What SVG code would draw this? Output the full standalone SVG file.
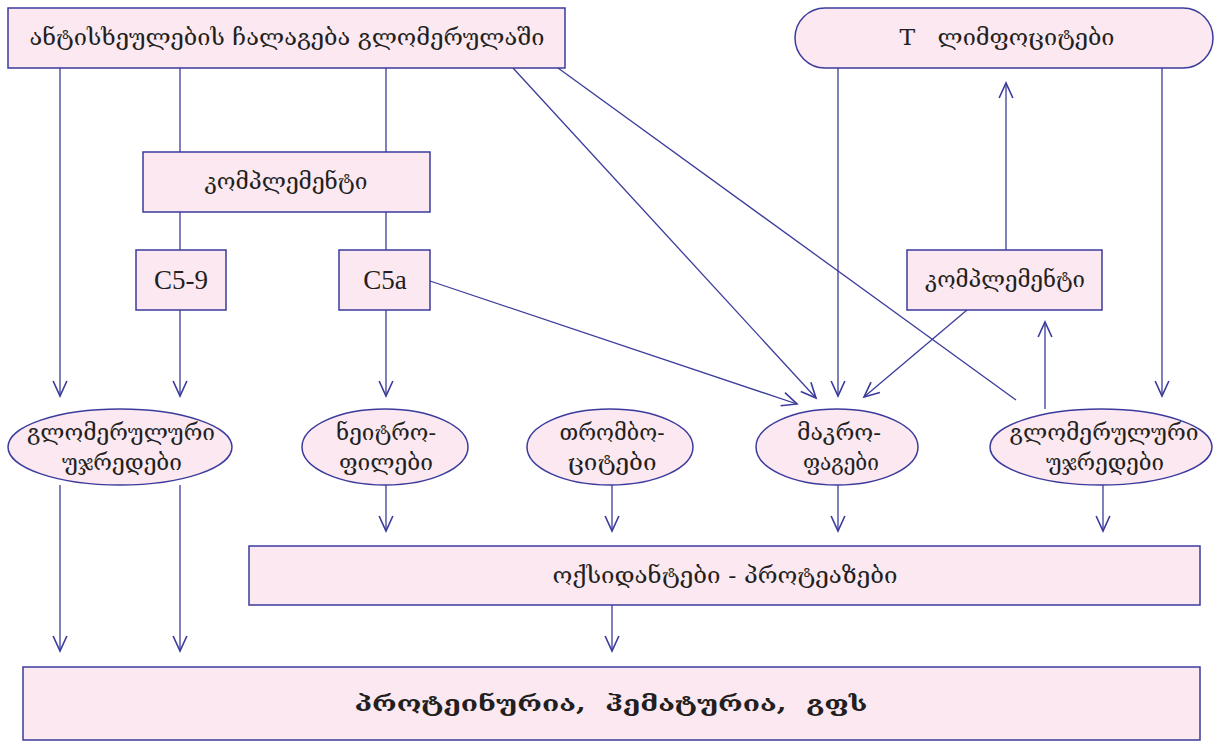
<svg xmlns="http://www.w3.org/2000/svg" width="1215" height="742" viewBox="0 0 1215 742">
  <style>
    .box { fill: #fbe8f1; stroke: #3b3b9c; stroke-width: 1.5; }
    .ln { fill: none; stroke: #3b3b9c; stroke-width: 1.3; }
    .ka { font-family: "DejaVu Serif", "DejaVu Sans", serif; fill: #231f20; font-size: 22px; text-anchor: middle; }
    .lat { font-family: "Liberation Serif", serif; fill: #231f20; font-size: 27px; text-anchor: middle; }
  </style>
  <defs>
    <marker id="arr" markerUnits="userSpaceOnUse" markerWidth="20" markerHeight="20" viewBox="-14 -8 16 16" refX="0" refY="0" orient="auto" overflow="visible">
      <path d="M -12 -5.5 L 0 0 L -12 5.5" fill="none" stroke="#3b3b9c" stroke-width="1.3"/>
    </marker>
  </defs>

  <rect width="1215" height="742" fill="#ffffff"/>

  <!-- connectors -->
  <g id="connectors">
    <line class="ln" x1="60" y1="68" x2="60" y2="396" marker-end="url(#arr)"/>
    <line class="ln" x1="180" y1="68" x2="180" y2="152"/>
    <line class="ln" x1="386" y1="68" x2="386" y2="152"/>
    <line class="ln" x1="513" y1="68" x2="816" y2="398" marker-end="url(#arr)"/>
    <line class="ln" x1="558" y1="68" x2="1016" y2="400"/>
    <line class="ln" x1="838" y1="68" x2="838" y2="396" marker-end="url(#arr)"/>
    <line class="ln" x1="1162" y1="68" x2="1162" y2="396" marker-end="url(#arr)"/>
    <line class="ln" x1="180" y1="212" x2="180" y2="250"/>
    <line class="ln" x1="386" y1="212" x2="386" y2="250"/>
    <line class="ln" x1="180" y1="310" x2="180" y2="396" marker-end="url(#arr)"/>
    <line class="ln" x1="386" y1="310" x2="386" y2="396" marker-end="url(#arr)"/>
    <line class="ln" x1="430" y1="281" x2="797" y2="404" marker-end="url(#arr)"/>
    <line class="ln" x1="1006" y1="250" x2="1006" y2="83" marker-end="url(#arr)"/>
    <line class="ln" x1="967" y1="310" x2="864" y2="397" marker-end="url(#arr)"/>
    <line class="ln" x1="1045" y1="409" x2="1045" y2="322" marker-end="url(#arr)"/>
    <line class="ln" x1="60" y1="485" x2="60" y2="651" marker-end="url(#arr)"/>
    <line class="ln" x1="180" y1="485" x2="180" y2="651" marker-end="url(#arr)"/>
    <line class="ln" x1="386" y1="485" x2="386" y2="531" marker-end="url(#arr)"/>
    <line class="ln" x1="612" y1="485" x2="612" y2="531" marker-end="url(#arr)"/>
    <line class="ln" x1="838" y1="485" x2="838" y2="531" marker-end="url(#arr)"/>
    <line class="ln" x1="1103" y1="485" x2="1103" y2="531" marker-end="url(#arr)"/>
    <line class="ln" x1="612" y1="605" x2="612" y2="651" marker-end="url(#arr)"/>
  </g>

  <g id="antibodies">
    <rect class="box" x="8" y="8" width="557" height="60"/>
    <text class="ka" x="287" y="45" textLength="515" lengthAdjust="spacingAndGlyphs">ანტისხეულების ჩალაგება გლომერულაში</text>
  </g>

  <g id="t-lymphocytes">
    <rect class="box" x="795" y="8" width="418" height="60" rx="30" ry="30"/>
    <text class="ka" x="1007" y="45" textLength="215" lengthAdjust="spacingAndGlyphs" xml:space="preserve">T   ლიმფოციტები</text>
  </g>

  <g id="complement-left">
    <rect class="box" x="143" y="152" width="287" height="60"/>
    <text class="ka" x="286" y="189" textLength="163" lengthAdjust="spacingAndGlyphs">კომპლემენტი</text>
  </g>

  <g id="c5-9">
    <rect class="box" x="136" y="250" width="90" height="60"/>
    <text class="lat" x="181" y="289">C5-9</text>
  </g>

  <g id="c5a">
    <rect class="box" x="339" y="250" width="91" height="60"/>
    <text class="lat" x="385" y="289">C5a</text>
  </g>

  <g id="complement-right">
    <rect class="box" x="907" y="250" width="195" height="60"/>
    <text class="ka" x="1005" y="287" textLength="160" lengthAdjust="spacingAndGlyphs">კომპლემენტი</text>
  </g>

  <g id="glomerular-cells-left">
    <ellipse class="box" cx="120" cy="447" rx="112" ry="38"/>
    <text class="ka" x="121" y="440" textLength="188" lengthAdjust="spacingAndGlyphs">გლომერულური</text>
    <text class="ka" x="122" y="470" textLength="120" lengthAdjust="spacingAndGlyphs">უჯრედები</text>
  </g>

  <g id="neutrophils">
    <ellipse class="box" cx="385" cy="447" rx="83" ry="38"/>
    <text class="ka" x="386" y="440" textLength="100" lengthAdjust="spacingAndGlyphs">ნეიტრო-</text>
    <text class="ka" x="386" y="470" textLength="94" lengthAdjust="spacingAndGlyphs">ფილები</text>
  </g>

  <g id="thrombocytes">
    <ellipse class="box" cx="610" cy="447" rx="83" ry="38"/>
    <text class="ka" x="612" y="440" textLength="105" lengthAdjust="spacingAndGlyphs">თრომბო-</text>
    <text class="ka" x="612" y="470" textLength="89" lengthAdjust="spacingAndGlyphs">ციტები</text>
  </g>

  <g id="macrophages">
    <ellipse class="box" cx="837" cy="447" rx="81" ry="38"/>
    <text class="ka" x="839" y="440" textLength="84" lengthAdjust="spacingAndGlyphs">მაკრო-</text>
    <text class="ka" x="841" y="470" textLength="76" lengthAdjust="spacingAndGlyphs">ფაგები</text>
  </g>

  <g id="glomerular-cells-right">
    <ellipse class="box" cx="1101" cy="447" rx="111" ry="38"/>
    <text class="ka" x="1104" y="440" textLength="189" lengthAdjust="spacingAndGlyphs">გლომერულური</text>
    <text class="ka" x="1105" y="470" textLength="118" lengthAdjust="spacingAndGlyphs">უჯრედები</text>
  </g>

  <g id="oxidants-proteases">
    <rect class="box" x="249" y="546" width="951" height="59"/>
    <text class="ka" x="725" y="583" font-size="19" textLength="345" lengthAdjust="spacingAndGlyphs">ოქსიდანტები - პროტეაზები</text>
  </g>

  <g id="outcome">
    <rect class="box" x="23" y="667" width="1177" height="73"/>
    <text class="ka" x="611" y="711" font-size="25" font-weight="bold" textLength="513" lengthAdjust="spacingAndGlyphs" xml:space="preserve">პროტეინურია,  ჰემატურია,  გფს</text>
  </g>
</svg>
